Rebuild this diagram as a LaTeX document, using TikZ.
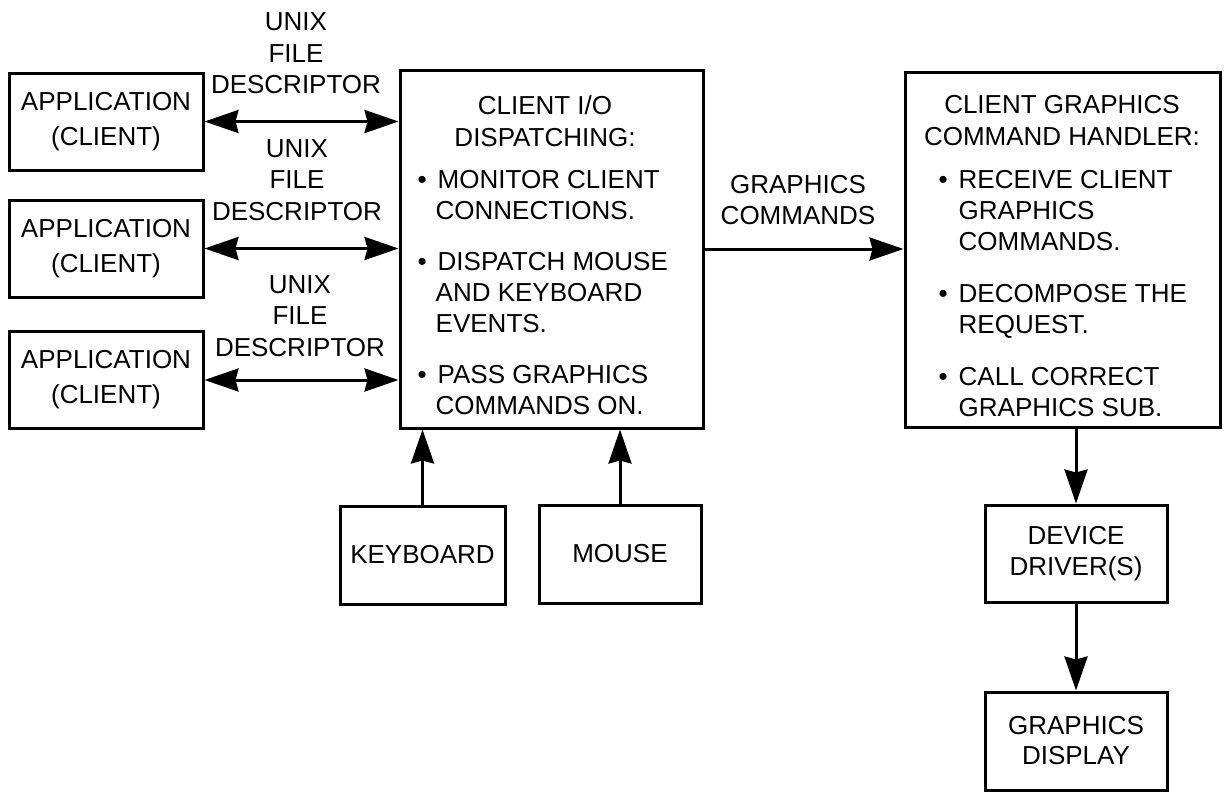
\documentclass[tikz,border=0pt]{standalone}
\usepackage{fontspec}
\setmainfont{Liberation Sans}
\usetikzlibrary{arrows.meta,calc}
\newcommand\mybul{\makebox[20pt][l]{•}}
\newcommand\contA{\hspace*{18pt}}
\newcommand\contB{\hspace*{20pt}}
\tikzset{
  box/.style={draw, line width=3pt, inner sep=0pt, align=center, font=\fontsize{26}{31}\selectfont},
  appbox/.style={box, minimum width=194pt, minimum height=97pt, font=\fontsize{26}{35}\selectfont},
  lbl/.style={inner sep=0pt, align=center, font=\fontsize{26}{31.5}\selectfont},
  head/.style={inner sep=0pt, align=center, font=\fontsize{26}{32}\selectfont},
  body/.style={inner sep=0pt, align=left, anchor=north west, font=\fontsize{26}{31}\selectfont},
  arr/.style={line width=3pt, ->},
  darr/.style={line width=3pt, <->},
}
\begin{document}
\begin{tikzpicture}[x=1pt, y=-1pt, >={Stealth[length=34pt,width=23pt,inset=3pt]}]
\useasboundingbox[fill=white] (0,0) rectangle (1229,793);

% application boxes
\node[appbox] (app1) at (106,121.5) {APPLICATION\\(CLIENT)};
\node[appbox] (app2) at (106,248.5) {APPLICATION\\(CLIENT)};
\node[appbox] (app3) at (106,380) {APPLICATION\\(CLIENT)};

% client I/O dispatching box
\node[box, minimum width=303pt, minimum height=358pt] (io) at (551.5,249) {};
\node[head] (iohead) at (545,121) {CLIENT I/O\\DISPATCHING:};
\node[body] (iobody) at (417.5,170.5) {\mybul MONITOR CLIENT\\
\contA CONNECTIONS.\\[20pt]
\mybul DISPATCH MOUSE\\
\contA AND KEYBOARD\\
\contA EVENTS.\\[20pt]
\mybul PASS GRAPHICS\\
\contA COMMANDS ON.};

% client graphics command handler box
\node[box, minimum width=315pt, minimum height=355pt] (rbox) at (1062.5,249.5) {};
\node[head] (rhead) at (1062,121) {CLIENT GRAPHICS\\COMMAND HANDLER:};
\node[body] (rbody) at (938.5,170.5) {\mybul RECEIVE CLIENT\\
\contB GRAPHICS\\
\contB COMMANDS.\\[21pt]
\mybul DECOMPOSE THE\\
\contB REQUEST.\\[21pt]
\mybul CALL CORRECT\\
\contB GRAPHICS SUB.};

% input devices
\node[box, minimum width=165pt, minimum height=98pt] (kb) at (422.5,555) {KEYBOARD};
\node[box, minimum width=162pt, minimum height=98pt] (ms) at (620,554) {MOUSE};

% output chain
\node[box, minimum width=182pt, minimum height=97pt] (dev) at (1076,553.5) {DEVICE\\DRIVER(S)};
\node[box, minimum width=182pt, minimum height=98pt, font=\fontsize{26}{30}\selectfont] (disp) at (1076,741) {GRAPHICS\\DISPLAY};

% labels
\node[lbl] (l1) at (296,53.5) {UNIX\\FILE\\DESCRIPTOR};
\node[lbl] (l2) at (297,180) {UNIX\\FILE\\DESCRIPTOR};
\node[lbl] (l3) at (300,316) {UNIX\\FILE\\DESCRIPTOR};
\node[lbl] (gc) at (798,200) {GRAPHICS\\COMMANDS};

% connectors
\draw[darr] (app1.east) -- (app1.east -| io.west);
\draw[darr] (app2.east) -- (app2.east -| io.west);
\draw[darr] (app3.east) -- (app3.east -| io.west);
\draw[arr] (kb.north) -- (kb.north |- io.south);
\draw[arr] (ms.north) -- (ms.north |- io.south);
\draw[arr] (io.east) -- (io.east -| rbox.west);
\draw[arr] (rbox.south -| dev.north) -- (dev.north);
\draw[arr] (dev.south) -- (disp.north);
\end{tikzpicture}
\end{document}
